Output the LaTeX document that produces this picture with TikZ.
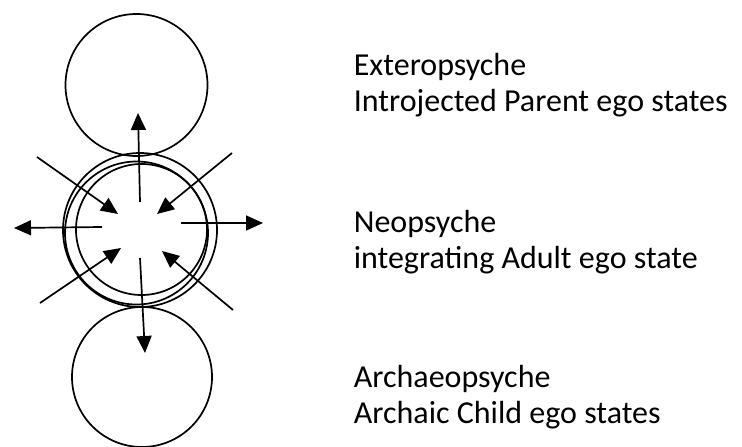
\documentclass[tikz,border=0pt]{standalone}
\usepackage{fontspec}
\setmainfont{Carlito}
\usetikzlibrary{arrows.meta}
\begin{document}
\begin{tikzpicture}[x=1pt, y=-1pt, >={Triangle[length=17pt,width=15pt]}, line width=1.7pt]
\useasboundingbox (0,0) rectangle (742,447);
\tikzset{ring/.style={circle, draw, minimum size=#1, inner sep=0pt},
  lbl/.style={anchor=base west, inner sep=0pt, font=\fontsize{32}{36}\selectfont}}

\node[ring=142pt] (parent) at (136.5,85) {};
\node[ring=140pt] (child) at (142,377) {};
\node[ring=154pt] (adulta) at (140,230) {};
\node[ring=143pt] (adultb) at (136.5,233) {};
\node[ring=131pt] (adultc) at (141.5,229.5) {};

% outward arrows
\coordinate (up0) at (140,202);   \coordinate (up1) at (138,113);
\coordinate (dn0) at (140,258);   \coordinate (dn1) at (145,353);
\coordinate (lf0) at (102,227);   \coordinate (lf1) at (14,228);
\coordinate (rt0) at (181,223);   \coordinate (rt1) at (263,223);
\draw[->] (up0)--(up1);
\draw[->] (dn0)--(dn1);
\draw[->] (lf0)--(lf1);
\draw[->] (rt0)--(rt1);

% inward arrows
\coordinate (ul0) at (37,157);    \coordinate (ul1) at (118,214);
\coordinate (ur0) at (232,153);   \coordinate (ur1) at (157,214);
\coordinate (ll0) at (40,303);    \coordinate (ll1) at (121,248);
\coordinate (lr0) at (233,310);   \coordinate (lr1) at (162,251);
\foreach \a in {ul,ur,ll,lr}
  \draw[->] (\a0)--(\a1);

\node[lbl] (ext) at (353,75) {Exteropsyche};
\node[lbl] (extsub) at (353,111) {Introjected Parent ego states};
\node[lbl] (neo) at (353,232) {Neopsyche};
\node[lbl] (neosub) at (353,268) {integrating Adult ego state};
\node[lbl] (arch) at (353,387) {Archaeopsyche};
\node[lbl] (archsub) at (353,423) {Archaic Child ego states};
\end{tikzpicture}
\end{document}
